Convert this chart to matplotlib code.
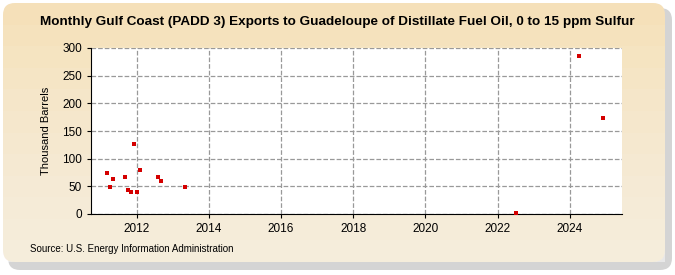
import numpy as np
import matplotlib
matplotlib.use("Agg")
import matplotlib.pyplot as plt
from matplotlib.patches import FancyBboxPatch

# monthly exports, thousand barrels
years = [2011, 2011, 2011, 2011, 2011, 2011, 2011, 2012, 2012, 2012, 2012, 2013, 2022, 2024, 2024]
months = [3, 4, 5, 9, 10, 11, 12, 1, 2, 8, 9, 5, 7, 4, 12]
values = [75, 48, 63, 67, 43, 39, 127, 39, 80, 66, 60, 49, 1, 285, 174]

x_ticks = [2012, 2014, 2016, 2018, 2020, 2022, 2024]
y_ticks = [0, 50, 100, 150, 200, 250, 300]

title = "Monthly Gulf Coast (PADD 3) Exports to Guadeloupe of Distillate Fuel Oil, 0 to 15 ppm Sulfur"
source = "Source: U.S. Energy Information Administration"

plt.rcParams['font.family'] = ['Liberation Sans', 'DejaVu Sans']

fig = plt.figure(figsize=(6.75, 2.75), dpi=100)

# background panel: shadow, then beige rounded box, faded toward lower right
bg = fig.add_axes([0, 0, 1, 1])
bg.set_xlim(0, 675)
bg.set_ylim(275, 0)
bg.axis('off')
bg.add_patch(FancyBboxPatch((8, 8), 664, 262, boxstyle="round,pad=0,rounding_size=12",
                            fc="#b8b8b8", ec="none", alpha=0.6))
bg.add_patch(FancyBboxPatch((3, 3), 662, 259, boxstyle="round,pad=0,rounding_size=12",
                            fc="#f5deb4", ec="none"))
# fade bands (white overlays) to mimic the gradient
for i in range(12):
    y0 = 3 + i * 259 / 12.0
    bg.add_patch(plt.Rectangle((3, y0), 662, 259 - i * 259 / 12.0,
                               fc="white", ec="none", alpha=0.07))

bg.text(337, 22, title, ha='center', va='center', fontsize=9.7, fontweight='bold')
bg.text(30, 249, source, ha='left', va='center', fontsize=7)

ax = fig.add_axes([91 / 675, 1 - 214 / 275, (622 - 91) / 675, (214 - 48) / 275])
ax.set_facecolor('white')
xs = [y + (m - 1) / 12.0 for y, m in zip(years, months)]
ax.set_xlim(2010.73, 2025.45)
ax.set_ylim(0, 300)
ax.set_xticks(x_ticks)
ax.set_yticks(y_ticks)
ax.tick_params(labelsize=8.5, length=3)
ax.grid(True, color='#999999', linestyle='--', linewidth=0.9)
ax.set_axisbelow(True)
ax.scatter(xs, values, marker='s', s=10, color='#d40000', zorder=3, clip_on=False, linewidths=0)
for s in ['top', 'right']:
    ax.spines[s].set_visible(False)
ax.set_ylabel('Thousand Barrels', fontsize=8, labelpad=8)

fig.savefig('out.png', dpi=100)
